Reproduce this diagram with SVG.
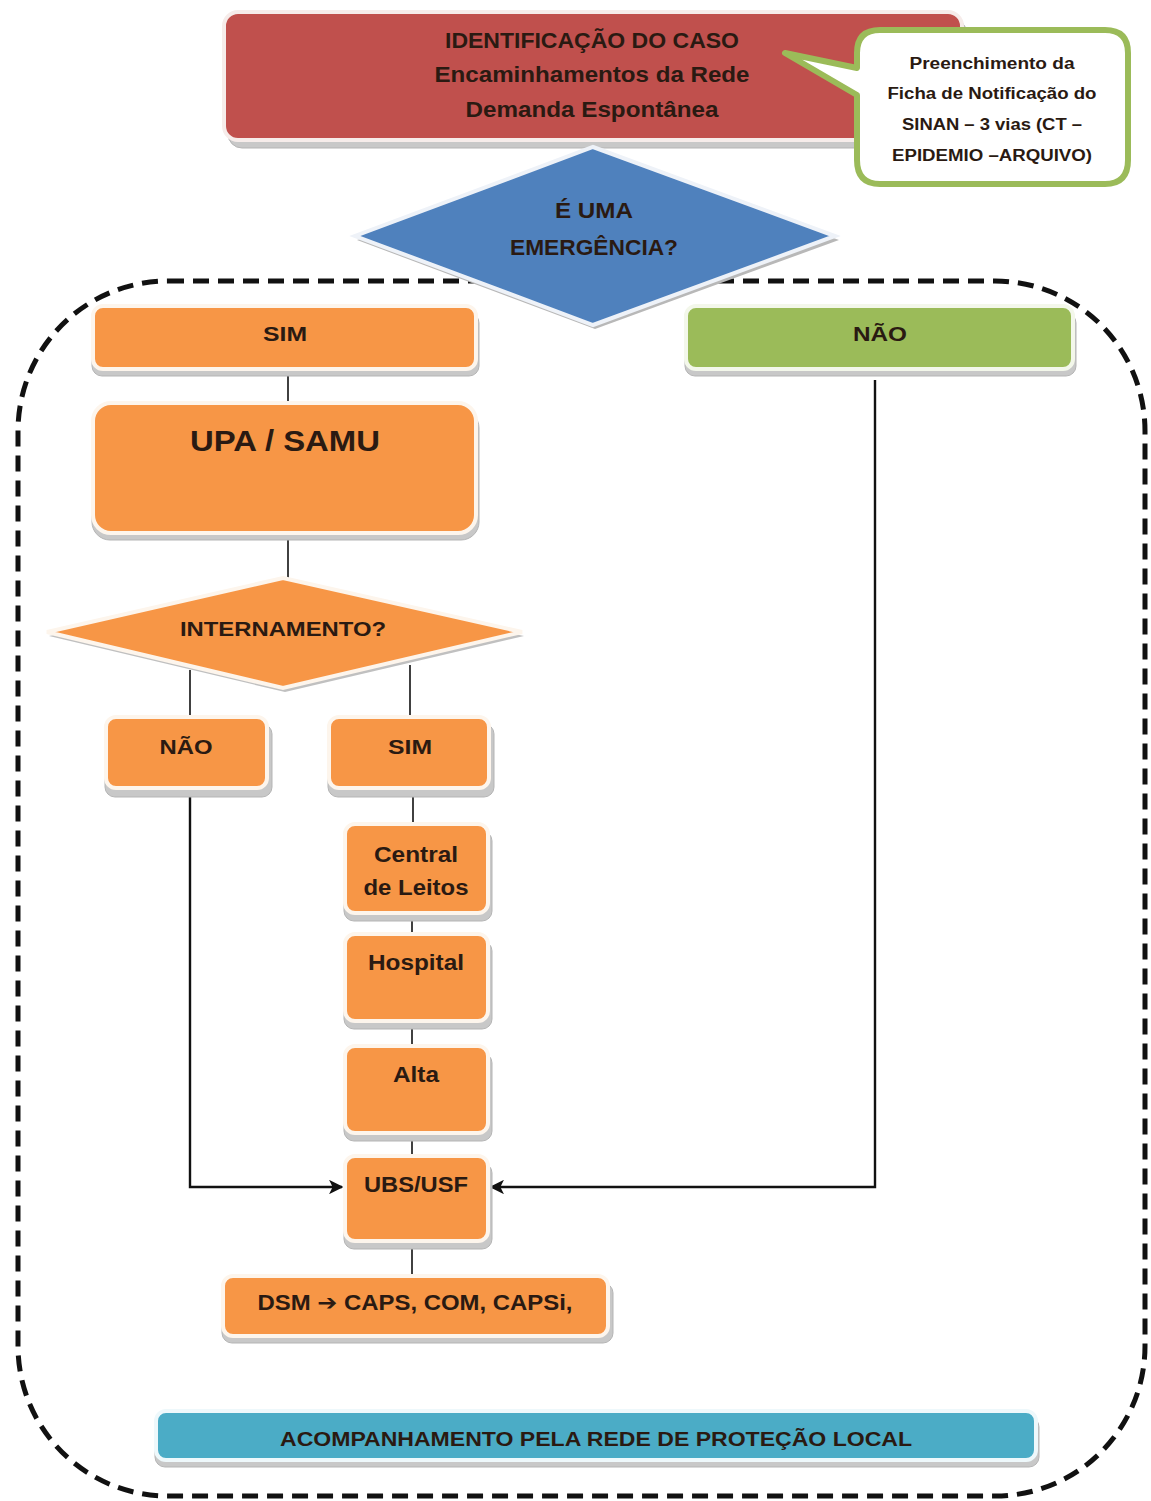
<svg xmlns="http://www.w3.org/2000/svg" width="1151" height="1501" viewBox="0 0 1151 1501">
  <style>
    .t { font-family: "Liberation Sans", Arial, sans-serif; font-weight: bold; fill: #2a1a12; text-anchor: middle; }
    .shadow { fill: #c8c8c8; stroke: #b5b5b5; stroke-width: 1; }
    .orange { fill: #F79646; stroke: #fdf5ec; stroke-width: 4; }
    .green { fill: #9BBB59; stroke: #f3f7ea; stroke-width: 4; }
    .red { fill: #C0504D; stroke: #f6ecea; stroke-width: 4; }
    .blue { fill: #4F81BD; stroke: #eef2f8; stroke-width: 4; }
    .teal { fill: #4BACC6; stroke: #eef8fb; stroke-width: 4; }
    .line { stroke: #111; stroke-width: 1.6; fill: none; }
    .arrow { stroke: #111; stroke-width: 2.4; fill: none; marker-end: url(#head); }
    .frame { fill: none; stroke: #111; stroke-width: 5; stroke-dasharray: 16 9; }
  </style>
  <defs>
    <marker id="head" viewBox="0 0 10 10" refX="9" refY="5" markerWidth="6" markerHeight="6" orient="auto">
      <path d="M0,0 L10,5 L0,10 L2.5,5 Z" fill="#111"/>
    </marker>
  </defs>

  <rect width="1151" height="1501" fill="#ffffff"/>

  <!-- dashed boundary of the local network -->
  <rect class="frame" x="18" y="281" width="1127" height="1215" rx="150" ry="150"/>

  <!-- connectors -->
  <g id="connectors">
    <line class="line" x1="288" y1="370" x2="288" y2="404"/>
    <line class="line" x1="288" y1="535" x2="288" y2="578"/>
    <line class="line" x1="190" y1="670" x2="190" y2="716"/>
    <line class="line" x1="410" y1="665" x2="410" y2="716"/>
    <line class="line" x1="413" y1="791" x2="413" y2="823"/>
    <line class="line" x1="412" y1="914" x2="412" y2="934"/>
    <line class="line" x1="412" y1="1024" x2="412" y2="1046"/>
    <line class="line" x1="412" y1="1136" x2="412" y2="1156"/>
    <line class="line" x1="412" y1="1244" x2="412" y2="1276"/>
    <polyline class="arrow" points="190,792 190,1187 342,1187"/>
    <polyline class="arrow" points="875,380 875,1187 491,1187"/>
  </g>

  <!-- case identification -->
  <g id="identificacao">
    <rect class="shadow" x="228" y="18" width="738" height="130" rx="14"/>
    <rect class="red" x="224" y="12" width="738" height="128" rx="14"/>
    <text class="t" x="592" y="48" font-size="22" textLength="294" lengthAdjust="spacingAndGlyphs">IDENTIFICAÇÃO DO CASO</text>
    <text class="t" x="592" y="82" font-size="22" textLength="315" lengthAdjust="spacingAndGlyphs">Encaminhamentos da Rede</text>
    <text class="t" x="592" y="117" font-size="22" textLength="253" lengthAdjust="spacingAndGlyphs">Demanda Espontânea</text>
  </g>

  <!-- SINAN notification callout -->
  <g id="sinan">
    <path d="M880,30 H1105 Q1128,30 1128,53 V160 Q1128,184 1105,184 H880 Q857,184 857,160 V95 L785,53 L857,68 V53 Q857,30 880,30 Z" fill="#ffffff" stroke="#9BBB59" stroke-width="6" stroke-linejoin="round"/>
    <text class="t" x="992" y="69" font-size="16" textLength="165" lengthAdjust="spacingAndGlyphs">Preenchimento da</text>
    <text class="t" x="992" y="99" font-size="16" textLength="209" lengthAdjust="spacingAndGlyphs">Ficha de Notificação do</text>
    <text class="t" x="992" y="130" font-size="16" textLength="180" lengthAdjust="spacingAndGlyphs">SINAN – 3 vias (CT –</text>
    <text class="t" x="992" y="161" font-size="16" textLength="200" lengthAdjust="spacingAndGlyphs">EPIDEMIO –ARQUIVO)</text>
  </g>

  <!-- emergency decision -->
  <g id="emergencia">
    <polygon points="595,151 839,240 595,329 357,240" fill="#b8b8b8"/>
    <polygon class="blue" points="593,147 835,236 593,325 355,236"/>
    <text class="t" x="594" y="218" font-size="22" textLength="78" lengthAdjust="spacingAndGlyphs">É UMA</text>
    <text class="t" x="594" y="255" font-size="22" textLength="168" lengthAdjust="spacingAndGlyphs">EMERGÊNCIA?</text>
  </g>

  <g id="sim-emergencia">
    <rect class="shadow" x="92" y="313" width="387" height="63" rx="10"/>
    <rect class="orange" x="93" y="306" width="383" height="63" rx="10"/>
    <text class="t" x="285" y="341" font-size="21" textLength="44" lengthAdjust="spacingAndGlyphs">SIM</text>
  </g>

  <g id="nao-emergencia">
    <rect class="shadow" x="685" y="313" width="391" height="63" rx="10"/>
    <rect class="green" x="686" y="306" width="387" height="63" rx="10"/>
    <text class="t" x="880" y="341" font-size="21" textLength="54" lengthAdjust="spacingAndGlyphs">NÃO</text>
  </g>

  <g id="upa-samu">
    <rect class="shadow" x="92" y="410" width="387" height="130" rx="18"/>
    <rect class="orange" x="93" y="403" width="383" height="130" rx="18"/>
    <text class="t" x="285" y="451" font-size="29" textLength="190" lengthAdjust="spacingAndGlyphs">UPA / SAMU</text>
  </g>

  <!-- admission decision -->
  <g id="internamento">
    <polygon points="285,582 524,636 285,692 49,636" fill="#c0c0c0"/>
    <polygon points="283,578 522,632 283,688 47,632" fill="#F79646" stroke="#fdf5ec" stroke-width="4"/>
    <text class="t" x="283" y="636" font-size="21" textLength="206" lengthAdjust="spacingAndGlyphs">INTERNAMENTO?</text>
  </g>

  <g id="nao-internamento">
    <rect class="shadow" x="105" y="724" width="167" height="73" rx="10"/>
    <rect class="orange" x="106" y="717" width="161" height="71" rx="10"/>
    <text class="t" x="186" y="754" font-size="21" textLength="53" lengthAdjust="spacingAndGlyphs">NÃO</text>
  </g>

  <g id="sim-internamento">
    <rect class="shadow" x="328" y="724" width="166" height="73" rx="10"/>
    <rect class="orange" x="329" y="717" width="160" height="71" rx="10"/>
    <text class="t" x="410" y="754" font-size="21" textLength="44" lengthAdjust="spacingAndGlyphs">SIM</text>
  </g>

  <g id="central-leitos">
    <rect class="shadow" x="344" y="831" width="148" height="90" rx="10"/>
    <rect class="orange" x="345" y="824" width="143" height="89" rx="10"/>
    <text class="t" x="416" y="862" font-size="22" textLength="84" lengthAdjust="spacingAndGlyphs">Central</text>
    <text class="t" x="416" y="895" font-size="22" textLength="105" lengthAdjust="spacingAndGlyphs">de Leitos</text>
  </g>

  <g id="hospital">
    <rect class="shadow" x="344" y="941" width="148" height="88" rx="10"/>
    <rect class="orange" x="345" y="934" width="143" height="87" rx="10"/>
    <text class="t" x="416" y="970" font-size="22" textLength="96" lengthAdjust="spacingAndGlyphs">Hospital</text>
  </g>

  <g id="alta">
    <rect class="shadow" x="344" y="1053" width="148" height="88" rx="10"/>
    <rect class="orange" x="345" y="1046" width="143" height="87" rx="10"/>
    <text class="t" x="416" y="1082" font-size="22" textLength="46" lengthAdjust="spacingAndGlyphs">Alta</text>
  </g>

  <g id="ubs-usf">
    <rect class="shadow" x="344" y="1163" width="148" height="86" rx="10"/>
    <rect class="orange" x="345" y="1156" width="143" height="85" rx="10"/>
    <text class="t" x="416" y="1192" font-size="22" textLength="104" lengthAdjust="spacingAndGlyphs">UBS/USF</text>
  </g>

  <g id="dsm">
    <rect class="shadow" x="222" y="1283" width="391" height="60" rx="10"/>
    <rect class="orange" x="223" y="1276" width="385" height="60" rx="10"/>
    <text class="t" x="415" y="1310" font-size="22" textLength="315" lengthAdjust="spacingAndGlyphs">DSM <tspan font-family="'DejaVu Sans', sans-serif">➔</tspan> CAPS, COM, CAPSi,</text>
  </g>

  <g id="acompanhamento">
    <rect class="shadow" x="155" y="1417" width="884" height="50" rx="10"/>
    <rect class="teal" x="156" y="1411" width="880" height="49" rx="10"/>
    <text class="t" x="596" y="1446" font-size="21" textLength="632" lengthAdjust="spacingAndGlyphs">ACOMPANHAMENTO PELA REDE DE PROTEÇÃO LOCAL</text>
  </g>
</svg>
